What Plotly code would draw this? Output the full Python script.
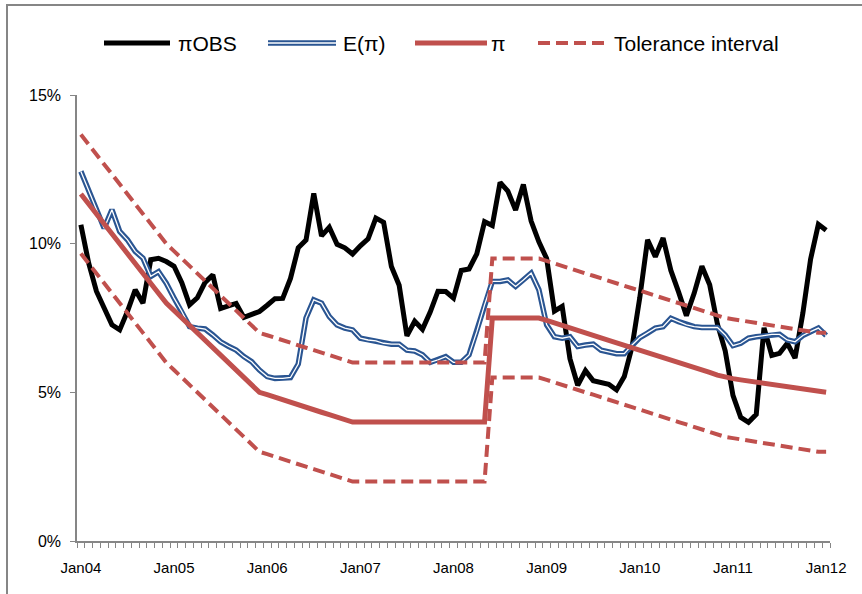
import plotly.graph_objects as go

# ---------------- data ----------------
month_names = ["Jan", "Feb", "Mar", "Apr", "May", "Jun", "Jul", "Aug", "Sep", "Oct", "Nov", "Dec"]
months = [f"{m}{y:02d}" for y in range(4, 13) for m in month_names][:97]   # Jan04 .. Jan12
tick_labels = ["Jan04", "Jan05", "Jan06", "Jan07", "Jan08", "Jan09", "Jan10", "Jan11", "Jan12"]
y_tick_values = [0, 5, 10, 15]
y_tick_labels = ["0%", "5%", "10%", "15%"]

pi_obs = [10.64, 9.35, 8.40, 7.83, 7.27, 7.10, 7.72, 8.45, 8.00, 9.46, 9.51, 9.40,
          9.24, 8.69, 7.94, 8.18, 8.70, 8.95, 7.82, 7.91, 7.99, 7.52, 7.61, 7.72,
          7.93, 8.15, 8.16, 8.83, 9.86, 10.12, 11.69, 10.26, 10.55, 9.98, 9.86, 9.65,
          9.93, 10.16, 10.86, 10.72, 9.23, 8.60, 6.90, 7.39, 7.12, 7.70, 8.40, 8.39,
          8.17, 9.10, 9.15, 9.66, 10.74, 10.61, 12.06, 11.77, 11.13, 11.99, 10.76, 10.06,
          9.50, 7.73, 7.89, 6.13, 5.24, 5.73, 5.39, 5.33, 5.27, 5.08, 5.53, 6.53,
          8.19, 10.13, 9.56, 10.19, 9.10, 8.37, 7.58, 8.33, 9.24, 8.62, 7.29, 6.40,
          4.90, 4.16, 3.99, 4.26, 7.17, 6.24, 6.31, 6.65, 6.15, 7.66, 9.48, 10.65,
          10.45]

e_pi = [12.43, 11.80, 11.15, 10.52, 11.14, 10.41, 10.13, 9.74, 9.51, 8.90, 9.06, 8.67,
        8.17, 7.72, 7.21, 7.16, 7.13, 6.93, 6.70, 6.55, 6.42, 6.20, 6.03, 5.75,
        5.53, 5.47, 5.47, 5.50, 5.95, 7.50, 8.11, 8.00, 7.55, 7.27, 7.16, 7.10,
        6.82, 6.76, 6.73, 6.65, 6.62, 6.62, 6.42, 6.39, 6.26, 6.01, 6.09, 6.20,
        6.01, 6.01, 6.26, 7.04, 7.94, 8.73, 8.73, 8.78, 8.56, 8.78, 9.01, 8.45,
        7.27, 6.87, 6.82, 6.87, 6.54, 6.59, 6.62, 6.42, 6.35, 6.30, 6.30, 6.59,
        6.84, 6.99, 7.16, 7.21, 7.49, 7.38, 7.27, 7.21, 7.18, 7.18, 7.18, 6.93,
        6.57, 6.65, 6.82, 6.87, 6.91, 6.95, 6.95, 6.76, 6.70, 6.91, 7.04, 7.16,
        6.91]

pi_target = [11.67, 11.33, 11.00, 10.67, 10.33, 10.00, 9.67, 9.33, 9.00, 8.67, 8.33, 8.00,
             7.75, 7.50, 7.25, 7.00, 6.75, 6.50, 6.25, 6.00, 5.75, 5.50, 5.25, 5.00,
             4.92, 4.83, 4.75, 4.67, 4.58, 4.50, 4.42, 4.33, 4.25, 4.17, 4.08, 4.00,
             4.00, 4.00, 4.00, 4.00, 4.00, 4.00, 4.00, 4.00, 4.00, 4.00, 4.00, 4.00,
             4.00, 4.00, 4.00, 4.00, 4.00, 7.50, 7.50, 7.50, 7.50, 7.50, 7.50, 7.50,
             7.42, 7.33, 7.25, 7.17, 7.08, 7.00, 6.92, 6.83, 6.75, 6.67, 6.58, 6.50,
             6.42, 6.33, 6.25, 6.17, 6.08, 6.00, 5.92, 5.83, 5.75, 5.67, 5.58, 5.50,
             5.46, 5.42, 5.38, 5.33, 5.29, 5.25, 5.21, 5.17, 5.13, 5.08, 5.04, 5.00,
             5.00]

tol_upper = [13.67, 13.33, 13.00, 12.67, 12.33, 12.00, 11.67, 11.33, 11.00, 10.67, 10.33, 10.00,
             9.75, 9.50, 9.25, 9.00, 8.75, 8.50, 8.25, 8.00, 7.75, 7.50, 7.25, 7.00,
             6.92, 6.83, 6.75, 6.67, 6.58, 6.50, 6.42, 6.33, 6.25, 6.17, 6.08, 6.00,
             6.00, 6.00, 6.00, 6.00, 6.00, 6.00, 6.00, 6.00, 6.00, 6.00, 6.00, 6.00,
             6.00, 6.00, 6.00, 6.00, 6.00, 9.50, 9.50, 9.50, 9.50, 9.50, 9.50, 9.50,
             9.42, 9.33, 9.25, 9.17, 9.08, 9.00, 8.92, 8.83, 8.75, 8.67, 8.58, 8.50,
             8.42, 8.33, 8.25, 8.17, 8.08, 8.00, 7.92, 7.83, 7.75, 7.67, 7.58, 7.50,
             7.46, 7.42, 7.38, 7.33, 7.29, 7.25, 7.21, 7.17, 7.13, 7.08, 7.04, 7.00,
             7.00]

tol_lower = [9.67, 9.33, 9.00, 8.67, 8.33, 8.00, 7.67, 7.33, 7.00, 6.67, 6.33, 6.00,
             5.75, 5.50, 5.25, 5.00, 4.75, 4.50, 4.25, 4.00, 3.75, 3.50, 3.25, 3.00,
             2.92, 2.83, 2.75, 2.67, 2.58, 2.50, 2.42, 2.33, 2.25, 2.17, 2.08, 2.00,
             2.00, 2.00, 2.00, 2.00, 2.00, 2.00, 2.00, 2.00, 2.00, 2.00, 2.00, 2.00,
             2.00, 2.00, 2.00, 2.00, 2.00, 5.50, 5.50, 5.50, 5.50, 5.50, 5.50, 5.50,
             5.42, 5.33, 5.25, 5.17, 5.08, 5.00, 4.92, 4.83, 4.75, 4.67, 4.58, 4.50,
             4.42, 4.33, 4.25, 4.17, 4.08, 4.00, 3.92, 3.83, 3.75, 3.67, 3.58, 3.50,
             3.46, 3.42, 3.38, 3.33, 3.29, 3.25, 3.21, 3.17, 3.13, 3.08, 3.04, 3.00,
             3.00]

series_names = ["πOBS", "E(π)", "π", "Tolerance interval"]

# ---------------- styling ----------------
W, H = 862, 594
ML, MR, MT, MB = 77, 32, 95, 53
PW, PH = W - ML - MR, H - MT - MB
BLACK = "#000000"
BLUE = "#2A5592"
RED = "#C0504D"
GRAY = "#868686"
FONT = "Liberation Sans, Arial, sans-serif"
DASH = "12px,6px"
W_BLACK, W_BLUE, W_WHITE, W_RED, W_DASH = 5, 5.5, 1.3, 5, 4

x = list(range(len(months)))
tick_pos = [months.index(t) for t in tick_labels]

fig = go.Figure()
fig.add_trace(go.Scatter(x=x, y=pi_obs, mode="lines", name=series_names[0],
                         line=dict(color=BLACK, width=W_BLACK), showlegend=False))
fig.add_trace(go.Scatter(x=x, y=e_pi, mode="lines", name=series_names[1],
                         line=dict(color=BLUE, width=W_BLUE), showlegend=False))
fig.add_trace(go.Scatter(x=x, y=e_pi, mode="lines", name=series_names[1] + " (inner)",
                         line=dict(color="white", width=W_WHITE), showlegend=False, hoverinfo="skip"))
fig.add_trace(go.Scatter(x=x, y=pi_target, mode="lines", name=series_names[2],
                         line=dict(color=RED, width=W_RED), showlegend=False))
fig.add_trace(go.Scatter(x=x, y=tol_upper, mode="lines", name=series_names[3],
                         line=dict(color=RED, width=W_DASH, dash=DASH), showlegend=False))
fig.add_trace(go.Scatter(x=x, y=tol_lower, mode="lines", name=series_names[3],
                         line=dict(color=RED, width=W_DASH, dash=DASH), showlegend=False))


def px_x(px):
    return (px - ML) / PW


def px_y(py):
    return (H - MB - py) / PH


shapes = []
annotations = []
LEG_Y = 43


def leg_line(x0, x1, color, width, dash=None):
    d = dict(type="line", xref="paper", yref="paper", x0=px_x(x0), x1=px_x(x1),
             y0=px_y(LEG_Y), y1=px_y(LEG_Y), line=dict(color=color, width=width))
    if dash:
        d["line"]["dash"] = dash
    shapes.append(d)


def leg_text(x0, text):
    annotations.append(dict(x=px_x(x0), y=px_y(LEG_Y), xref="paper", yref="paper",
                            text=text, showarrow=False, xanchor="left", yanchor="middle",
                            font=dict(family=FONT, size=21, color="#000000")))


leg_line(104, 170, BLACK, W_BLACK)
leg_text(176, series_names[0])
leg_line(268, 336, BLUE, W_BLUE)
leg_line(268, 336, "white", W_WHITE)
leg_text(341, series_names[1])
leg_line(415, 487, RED, W_RED)
leg_text(489, series_names[2])
leg_line(538, 608, RED, W_DASH, DASH)
leg_text(612, series_names[3])

# chart-area border (left and top visible)
shapes.append(dict(type="rect", xref="paper", yref="paper", x0=px_x(7), x1=px_x(W + 20),
                   y0=px_y(H + 20), y1=px_y(5), line=dict(color=GRAY, width=2),
                   fillcolor="rgba(0,0,0,0)", layer="below"))

fig.update_layout(
    width=W, height=H,
    margin=dict(l=ML, r=MR, t=MT, b=MB, pad=0),
    paper_bgcolor="white", plot_bgcolor="white",
    showlegend=False,
    shapes=shapes, annotations=annotations,
    font=dict(family=FONT, size=15, color="#000000"),
)
fig.update_xaxes(
    range=[-0.5, len(months) - 0.5], tickmode="array", tickvals=tick_pos, ticktext=tick_labels,
    ticks="", showgrid=False, zeroline=False, showline=True, linecolor=GRAY, linewidth=1.5,
    tickfont=dict(family=FONT, size=15), ticklabelstandoff=12,
    minor=dict(tickmode="linear", tick0=-0.5, dtick=1, ticks="outside", ticklen=5,
               tickcolor=GRAY, tickwidth=1, showgrid=False),
)
fig.update_yaxes(
    range=[0, 15], tickmode="array", tickvals=y_tick_values, ticktext=y_tick_labels,
    ticks="outside", ticklen=5, tickcolor=GRAY, tickwidth=1,
    showgrid=False, zeroline=False, showline=True, linecolor=GRAY, linewidth=1.5,
    tickfont=dict(family=FONT, size=16), ticklabelstandoff=6,
)

fig.write_html("out.html", config={"displayModeBar": False},
               post_script="document.body.style.margin='0';")
